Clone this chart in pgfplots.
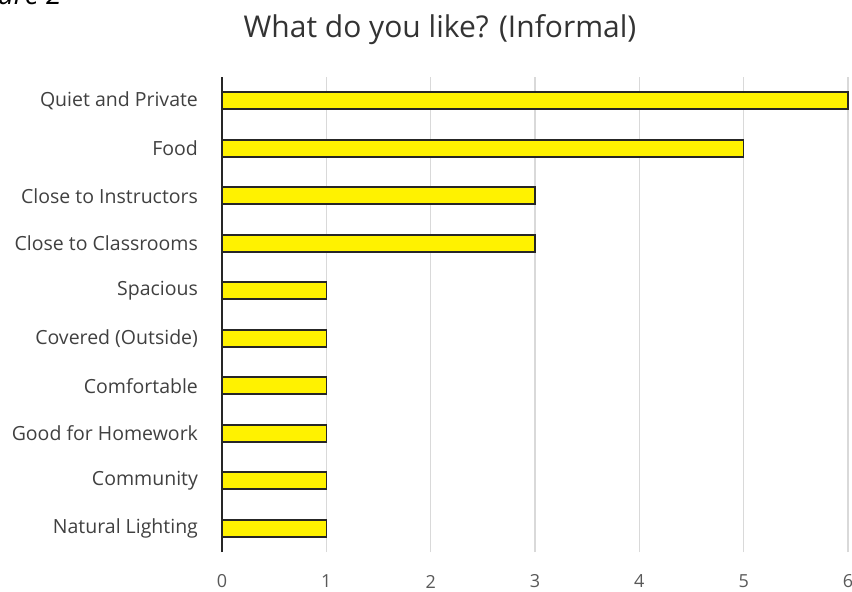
\documentclass[border=0pt]{standalone}
\usepackage{pgfplots}
\pgfplotsset{compat=1.18}
\usepackage{fontspec}
\setmainfont{Open Sans}
\definecolor{gridc}{RGB}{217,217,217}
\definecolor{tickc}{RGB}{89,89,89}
\definecolor{barline}{RGB}{38,38,38}
\definecolor{txt}{RGB}{64,64,64}
\begin{document}
\begin{tikzpicture}
\useasboundingbox (0,0) rectangle (426pt,295.5pt);
\node[anchor=base east,font=\itshape\fontsize{14}{16}\selectfont,text=black,inner sep=0pt] at (31pt,293.5pt) {Figure 2};
\node[anchor=base,font=\fontsize{15}{18}\selectfont,text=black!80,inner sep=0pt] at (220pt,277pt) {What do you like? (Informal)};
\begin{axis}[
  at={(111pt,19.5pt)}, anchor=south west,
  scale only axis, width=313pt, height=237.5pt,
  xbar, bar width=8.5pt,
  xmin=0, xmax=6, ymin=-0.5, ymax=9.5,
  xtick={0,1,2,3,4,5,6},
  ytick={0,...,9},
  yticklabels={Natural Lighting,Community,Good for Homework,Comfortable\hspace{2.5pt},Covered (Outside)\hspace{2.5pt},Spacious\hspace{2.5pt},Close to Classrooms\hspace{2.5pt},Close to Instructors,Food\hspace{2.5pt},Quiet and Private},
  xmajorgrids, grid style={gridc,line width=0.8pt},
  axis line style={draw=none},
  major tick length=0pt,
  tick style={draw=none},
  xticklabel style={font=\fontsize{9}{11}\selectfont,text=tickc,anchor=center,yshift=-14.75pt},
  yticklabel style={font=\fontsize{9.75}{12}\selectfont,text=txt,xshift=-8.5pt},
  /pgf/number format/assume math mode=true,
  clip=false,
]
\addplot[fill=yellow, draw=barline, line width=0.8pt] coordinates {
  (1,0) (1,1) (1,2) (1,3) (1,4) (1,5) (3,6) (3,7) (5,8) (6,9)
};
\draw[black!85, line width=1pt] (axis cs:0,-0.5) -- (axis cs:0,9.5);
\end{axis}
\end{tikzpicture}
\end{document}
